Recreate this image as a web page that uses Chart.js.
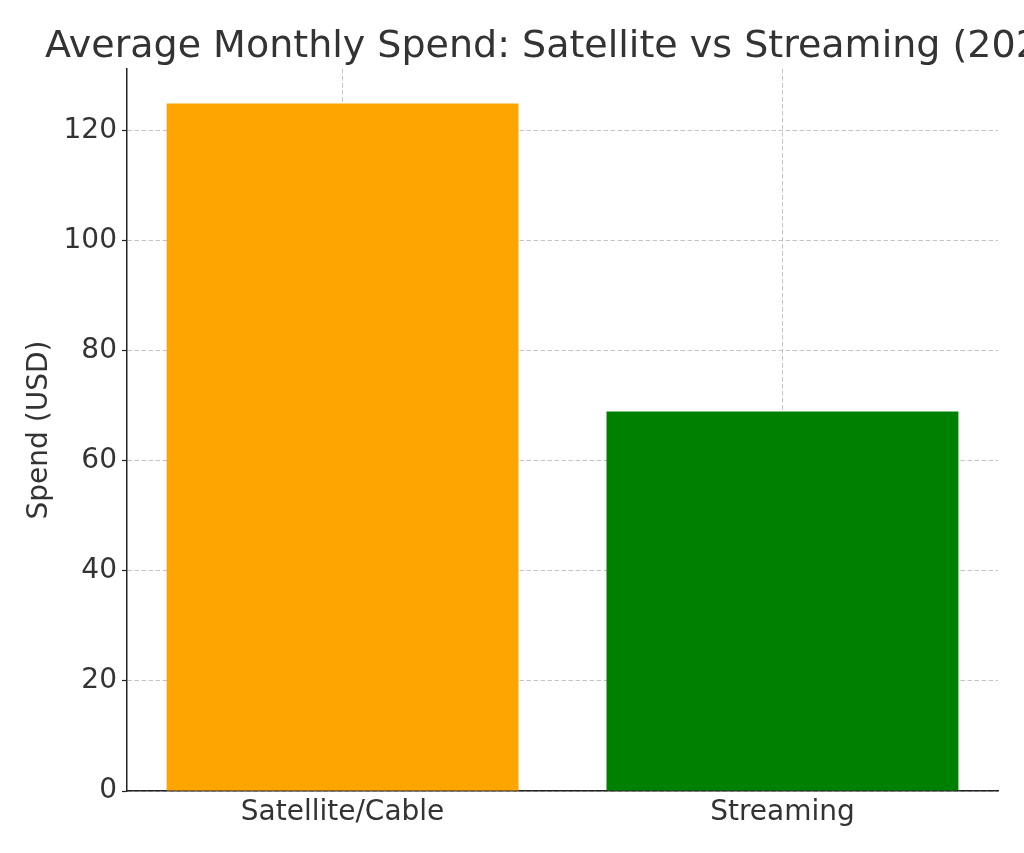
<!DOCTYPE html>
<html>
<head>
<meta charset="utf-8">
<script src="https://cdn.jsdelivr.net/npm/chart.js@4/dist/chart.umd.min.js"></script>
<style>
  html, body { margin: 0; padding: 0; background: #fff; }
  #wrap { width: 1024px; height: 853px; }
</style>
</head>
<body>
<div id="wrap"><canvas id="chart" width="1024" height="853"></canvas></div>
<script>
// data
var categories = ['Satellite/Cable', 'Streaming'];
var spend = [125, 69];
var barColors = ['#FFA500', '#008000'];
var yTicks = [0, 20, 40, 60, 80, 100, 120];
var titleText = 'Average Monthly Spend: Satellite vs Streaming (2024)';

var font = "'DejaVu Sans', sans-serif";
var textColor = '#333333';
var gridColor = 'rgba(176,176,176,0.75)';

// title is left-aligned and runs off the right edge like the original
var titlePlugin = {
    id: 'leftTitle',
    afterDraw: function (chart) {
        var ctx = chart.ctx;
        ctx.save();
        ctx.font = '38px ' + font;
        ctx.fillStyle = textColor;
        ctx.textBaseline = 'alphabetic';
        ctx.textAlign = 'left';
        ctx.fillText(titleText, 45, 57);
        ctx.restore();
    }
};

// bars on a numeric x axis so the side margins match (-0.49 .. 1.49)
var points = spend.map(function (v, i) { return { x: i, y: v }; });

new Chart(document.getElementById('chart').getContext('2d'), {
    type: 'bar',
    data: {
        datasets: [{
            label: 'Spend (USD)',
            data: points,
            backgroundColor: barColors,
            borderWidth: 0,
            barPercentage: 0.8,
            categoryPercentage: 1
        }]
    },
    options: {
        responsive: false,
        animation: false,
        layout: { padding: { top: 69, right: 26, bottom: 0, left: 0 } },
        plugins: {
            legend: { display: false },
            title: { display: false },
            tooltip: { enabled: false }
        },
        scales: {
            x: {
                type: 'linear',
                min: -0.49,
                max: 1.49,
                offset: false,
                z: 1,
                afterBuildTicks: function (s) {
                    s.ticks = categories.map(function (c, i) { return { value: i }; });
                },
                grid: {
                    offset: false,
                    color: gridColor,
                    drawTicks: false
                },
                border: { display: true, color: '#222', width: 1.5, dash: [4.5, 2.5] },
                ticks: {
                    color: textColor,
                    font: { family: font, size: 28 },
                    padding: 5,
                    callback: function (v) { return categories[v]; }
                },
                afterFit: function (s) { s.height = 62; }
            },
            y: {
                min: 0,
                max: 131.25,
                z: 1,
                afterBuildTicks: function (s) {
                    s.ticks = yTicks.map(function (v) { return { value: v }; });
                },
                grid: {
                    color: gridColor,
                    tickBorderDash: [],
                    tickColor: '#222',
                    tickLength: 5,
                    tickWidth: 1.2
                },
                border: { display: true, color: '#222', width: 1.5, dash: [4.5, 2.5] },
                ticks: {
                    color: textColor,
                    font: { family: font, size: 28 },
                    padding: 5
                },
                title: {
                    display: true,
                    text: 'Spend (USD)',
                    color: textColor,
                    font: { family: font, size: 28 },
                    padding: { top: 23, bottom: 0 }
                },
                afterFit: function (s) { s.width = 127; }
            }
        }
    },
    plugins: [titlePlugin]
});
</script>
</body>
</html>
